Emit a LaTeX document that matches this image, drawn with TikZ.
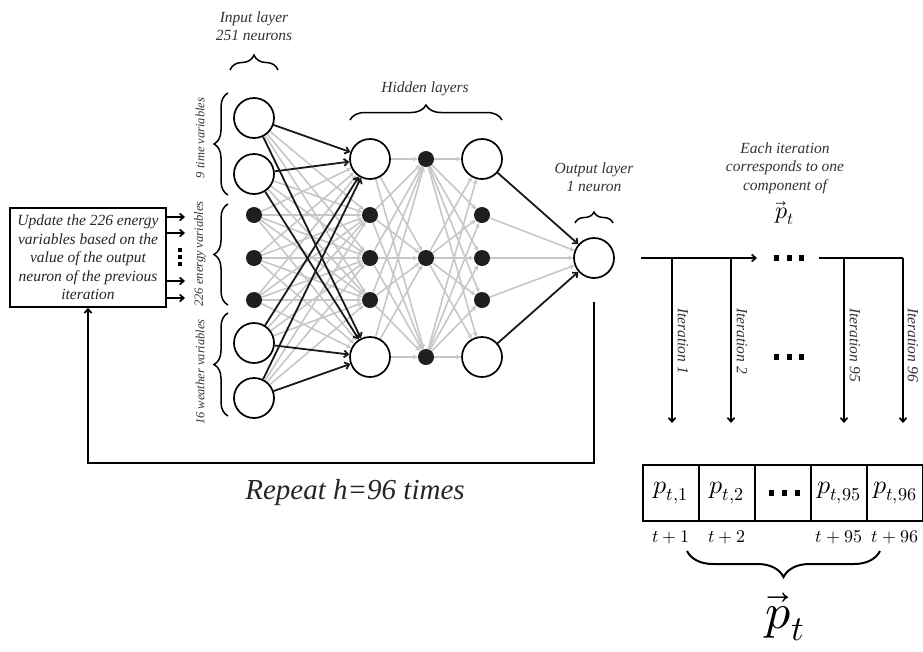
\documentclass[tikz,border=0pt]{standalone}
\usepackage{fontspec}
\usepackage{unicode-math}
\setmainfont{Liberation Serif}
\usetikzlibrary{arrows.meta,decorations.pathreplacing,backgrounds}
\begin{document}
\begin{tikzpicture}[x=1pt,y=-1pt,
  big/.style={circle,draw=black,line width=1.7pt,fill=white,minimum size=40pt,inner sep=0pt},
  dotn/.style={circle,fill=black!88,minimum size=16pt,inner sep=0pt},
  gedge/.style={draw=black!22,line width=1.6pt,-{Stealth[length=5pt,width=5pt]}},
  bedge/.style={draw=black!90,line width=1.8pt,-{Straight Barb[length=4pt,width=7pt]}},
  lbl/.style={font=\fontsize{15.5}{18.5}\selectfont\itshape,align=center,text=black!80,inner sep=0pt},
  slbl/.style={font=\fontsize{12.5}{15}\selectfont\itshape,text=black!80,inner sep=0pt},
  brc/.style={decorate,decoration={brace,amplitude=#1},line width=1.5pt},
  brc/.default=14pt,
  sq/.style={fill=black,minimum width=5pt,minimum height=5.5pt,inner sep=0pt},
  ssq/.style={fill=black,minimum size=4pt,inner sep=0pt},
  thick line/.style={line width=1.7pt,draw=black},
  arr/.style={thick line,-{Straight Barb[length=4pt,width=7pt]}},
  cell/.style={draw=black,line width=1.5pt,minimum width=56pt,minimum height=56pt,inner sep=0pt,font=\fontsize{26}{30}\selectfont}
]
\useasboundingbox (0,0) rectangle (923,651);

% ---------- network nodes ----------
\node[big]  (in1) at (254,118) {};
\node[big]  (in2) at (254,174) {};
\node[dotn] (in3) at (254,215) {};
\node[dotn] (in4) at (254,258) {};
\node[dotn] (in5) at (254,300) {};
\node[big]  (in6) at (254,343) {};
\node[big]  (in7) at (254,398) {};

\node[big]  (ha1) at (370,159) {};
\node[dotn] (ha2) at (370,215) {};
\node[dotn] (ha3) at (370,258) {};
\node[dotn] (ha4) at (370,300) {};
\node[big]  (ha5) at (370,357) {};

\node[dotn] (hb1) at (426,159) {};
\node[dotn] (hb2) at (426,258) {};
\node[dotn] (hb3) at (426,357) {};

\node[big]  (hc1) at (482,159) {};
\node[dotn] (hc2) at (482,215) {};
\node[dotn] (hc3) at (482,258) {};
\node[dotn] (hc4) at (482,300) {};
\node[big]  (hc5) at (482,357) {};

\node[big]  (out) at (594,258) {};

% ---------- edges ----------
\begin{scope}[on background layer]
  \foreach \i in {in3,in4,in5}
    \foreach \j in {ha1,ha2,ha3,ha4,ha5}
      \draw[gedge] (\i) -- (\j);
  \foreach \i in {in1,in2,in6,in7}
    \foreach \j in {ha2,ha3,ha4}
      \draw[gedge] (\i) -- (\j);
  \foreach \i in {ha1,ha2,ha3,ha4,ha5}
    \foreach \j in {hb1,hb2,hb3}
      \draw[gedge] (\i) -- (\j);
  \foreach \i in {hb1,hb2,hb3}
    \foreach \j in {hc1,hc2,hc3,hc4,hc5}
      \draw[gedge] (\i) -- (\j);
  \foreach \i in {hc2,hc3,hc4}
    \draw[gedge] (\i) -- (out);
  \foreach \i in {in1,in2,in6,in7}
    \foreach \j in {ha1,ha5}
      \draw[bedge] (\i) -- (\j);
  \foreach \i in {hc1,hc5}
    \draw[bedge] (\i) -- (out);
\end{scope}

% ---------- layer labels and braces ----------
\node[lbl] (tin) at (254,26) {Input layer\\251 neurons};
\draw[brc=15pt] (230,70) -- (278,70);
\node[lbl] (thid) at (425,89) {Hidden layers};
\draw[brc=15pt] (350,120) -- (502,120);
\node[lbl] (tout) at (594,177) {Output layer\\1 neuron};
\draw[brc=11pt] (575,223) -- (613,223);

\draw[brc] (228,195) -- (228,93);
\node[slbl,rotate=90] (ltime) at (200,138) {9 time variables};
\draw[brc] (228,305) -- (228,204);
\node[slbl,rotate=90] (lenergy) at (200,254) {226 energy variables};
\draw[brc] (228,416) -- (228,313);
\node[slbl,rotate=90] (lweather) at (200,372) {16 weather variables};

% ---------- update box ----------
\node[draw=black,line width=1.5pt,minimum width=156pt,minimum height=99pt,
      align=center,inner sep=0pt,
      font=\fontsize{15.5}{18.5}\selectfont\itshape,text=black!85] (box) at (88,257.5)
  {Update the 226 energy\\variables based on the\\value of the output\\neuron of the previous\\iteration};
\coordinate (ba1) at (185,217);
\coordinate (ba2) at (185,233);
\coordinate (ba3) at (185,281);
\coordinate (ba4) at (185,298);
\foreach \c in {ba1,ba2,ba3,ba4}
  \draw[arr] (box.east |- \c) -- (\c);
\node[ssq] (bd1) at (180,250) {};
\node[ssq] (bd2) at (180,257) {};
\node[ssq] (bd3) at (180,264) {};

% ---------- feedback loop ----------
\coordinate (fb0) at (594,302);
\coordinate (fb1) at (594,463);
\coordinate (fb2) at (88,463);
\draw[arr] (fb0) -- (fb1) -- (fb2) -- (box.south);
\node[font=\fontsize{29}{32}\selectfont\itshape,text=black!85] (rep) at (355,493) {Repeat h=96 times};

% ---------- iterations ----------
\node[lbl] (each) at (785,168) {Each iteration\\corresponds to one\\component of};
\node[font=\fontsize{24}{28}\selectfont] (pvs) at (785,213) {$\vec{p}_t$};

\coordinate (hs) at (641,258);
\coordinate (he) at (757,258);
\coordinate (j1) at (672,258);
\coordinate (j2) at (731,258);
\coordinate (hs2) at (819,258);
\coordinate (j3) at (844,258);
\coordinate (j4) at (903,258);
\draw[arr] (hs) -- (he);
\draw[thick line] (hs2) -- (j4);
\node[sq] (d1) at (776.5,258) {};
\node[sq] (d2) at (789,258) {};
\node[sq] (d3) at (801.5,258) {};

\coordinate (e1) at (672,423);
\coordinate (e2) at (731,423);
\coordinate (e3) at (844,423);
\coordinate (e4) at (903,423);
\draw[arr] (j1) -- (e1);
\draw[arr] (j2) -- (e2);
\draw[arr] (j3) -- (e3);
\draw[arr] (j4) -- (e4);

\node[lbl,rotate=-90] (it1) at (683,341) {Iteration 1};
\node[lbl,rotate=-90] (it2) at (742,341) {Iteration 2};
\node[lbl,rotate=-90] (it95) at (855,345) {Iteration 95};
\node[lbl,rotate=-90] (it96) at (913,345) {Iteration 96};

\node[sq] (m1) at (776.5,357) {};
\node[sq] (m2) at (789,357) {};
\node[sq] (m3) at (801.5,357) {};

% ---------- output vector ----------
\node[cell] (c1) at (671,493) {$p_{t,1}$};
\node[cell] (c2) at (727,493) {$p_{t,2}$};
\node[cell] (c3) at (783,493) {};
\node[cell] (c4) at (839,493) {$p_{t,95}$};
\node[cell] (c5) at (895,493) {$p_{t,96}$};
\node[sq] (cd1) at (771,493) {};
\node[sq] (cd2) at (784,493) {};
\node[sq] (cd3) at (797,493) {};

\begin{scope}[font=\fontsize{18}{20}\selectfont]
\node (t1) at (671,537) {$t+1$};
\node (t2) at (727,537) {$t+2$};
\node (t95) at (839,537) {$t+95$};
\node (t96) at (895,537) {$t+96$};
\end{scope}
\draw[brc=26pt,line width=2pt] (880,551) -- (687,551);
\node[font=\fontsize{50}{54}\selectfont] (pvb) at (785,617) {$\vec{p}_t$};
\end{tikzpicture}
\end{document}
